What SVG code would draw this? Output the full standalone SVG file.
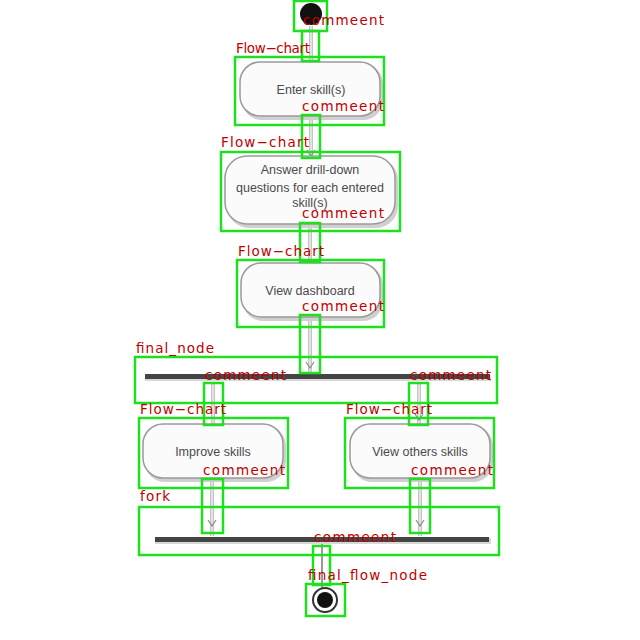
<svg xmlns="http://www.w3.org/2000/svg" width="640" height="640" viewBox="0 0 640 640">
<defs>
<style>
.act{fill:#fbfbfb;stroke:#9a9a9a;stroke-width:1.5}
.sh{fill:#d0d0d0}
.nt{font-family:"Liberation Sans",Arial,sans-serif;font-size:12.5px;fill:#4a4a4a;text-anchor:middle}
.gb{fill:none;stroke:#1fe01f;stroke-width:2.5}
.lb{font-family:"DejaVu Sans",sans-serif;font-size:13.5px;fill:#c00000}
.ln{stroke:#c4c4c4;stroke-width:4;fill:none}
.li{stroke:#ececec;stroke-width:1.5;fill:none}
.ah{stroke:#888;stroke-width:1.2;fill:none}
.bar{fill:#444}
</style>
</defs>
<rect width="640" height="640" fill="#fff"/>
<g id="connectors">
<line class="ln" x1="311" y1="26" x2="311" y2="62"/><line class="li" x1="311" y1="26" x2="311" y2="62"/>
<line class="ln" x1="311" y1="119" x2="311" y2="156"/><line class="li" x1="311" y1="119" x2="311" y2="156"/>
<path class="ah" d="M307 150 L311 156 L315 150"/>
<line class="ln" x1="310" y1="228" x2="310" y2="263"/><line class="li" x1="310" y1="228" x2="310" y2="263"/>
<line class="ln" x1="310" y1="321" x2="310" y2="373"/><line class="li" x1="310" y1="321" x2="310" y2="373"/>
<path class="ah" d="M306 362 L310 368 L314 362"/>
<line class="ln" x1="213" y1="382" x2="213" y2="424"/><line class="li" x1="213" y1="382" x2="213" y2="424"/>
<line class="ln" x1="419" y1="382" x2="419" y2="424"/><line class="li" x1="419" y1="382" x2="419" y2="424"/>
<path class="ah" d="M415 414 L419 420 L423 414"/>
<line class="ln" x1="212" y1="481" x2="212" y2="536"/><line class="li" x1="212" y1="481" x2="212" y2="536"/>
<path class="ah" d="M208 520 L212 526 L216 520"/>
<line class="ln" x1="420" y1="481" x2="420" y2="536"/><line class="li" x1="420" y1="481" x2="420" y2="536"/>
<path class="ah" d="M416 520 L420 526 L424 520"/>
<line x1="322" y1="543" x2="322" y2="588" stroke="#999" stroke-width="2"/>
</g>
<g id="start">
<circle cx="311" cy="14" r="11" fill="#111"/>
</g>
<g id="enter">
<rect class="sh" x="242" y="64" width="141" height="56" rx="20"/>
<rect class="act" x="240" y="62" width="140" height="54" rx="20"/>
<text class="nt" x="311" y="94">Enter skill(s)</text>
</g>
<g id="answer">
<rect class="sh" x="227" y="158" width="171" height="70" rx="22"/>
<rect class="act" x="225" y="156" width="170" height="68" rx="22"/>
<text class="nt" x="310" y="174">Answer drill-down</text>
<text class="nt" x="310" y="192">questions for each entered</text>
<text class="nt" x="310" y="207">skill(s)</text>
</g>
<g id="dashboard">
<rect class="sh" x="243" y="265" width="140" height="56" rx="20"/>
<rect class="act" x="241" y="263" width="139" height="54" rx="20"/>
<text class="nt" x="310" y="295">View dashboard</text>
</g>
<g id="fork_top">
<rect x="145" y="375" width="346" height="6" fill="#d8d8d8"/>
<rect class="bar" x="145" y="374" width="345" height="5"/>
</g>
<g id="improve">
<rect class="sh" x="145" y="426" width="141" height="56" rx="20"/>
<rect class="act" x="143" y="424" width="140" height="54" rx="20"/>
<text class="nt" x="213" y="456">Improve skills</text>
</g>
<g id="others">
<rect class="sh" x="352" y="426" width="141" height="56" rx="20"/>
<rect class="act" x="350" y="424" width="140" height="54" rx="20"/>
<text class="nt" x="420" y="456">View others skills</text>
</g>
<g id="join">
<rect x="155" y="538" width="336" height="6" fill="#d8d8d8"/>
<rect class="bar" x="155" y="537" width="334" height="5"/>
</g>
<g id="final">
<circle cx="325" cy="600" r="12" fill="#fff" stroke="#333" stroke-width="2"/>
<circle cx="325" cy="600" r="8" fill="#111"/>
</g>
<g id="annotations">
<rect class="gb" x="294" y="1" width="33" height="30"/>
<rect class="gb" x="302" y="31" width="17" height="30"/>
<rect class="gb" x="235" y="57" width="149" height="68"/>
<rect class="gb" x="302" y="115" width="18" height="43"/>
<rect class="gb" x="221" y="152" width="179" height="79"/>
<rect class="gb" x="300" y="223" width="20" height="39"/>
<rect class="gb" x="237" y="260" width="147" height="67"/>
<rect class="gb" x="300" y="315" width="20" height="58"/>
<rect class="gb" x="135" y="357" width="362" height="46"/>
<rect class="gb" x="204" y="383" width="19" height="42"/>
<rect class="gb" x="409" y="383" width="19" height="42"/>
<rect class="gb" x="139" y="418" width="149" height="70"/>
<rect class="gb" x="345" y="418" width="149" height="70"/>
<rect class="gb" x="202" y="479" width="21" height="54"/>
<rect class="gb" x="410" y="479" width="20" height="54"/>
<rect class="gb" x="139" y="507" width="360" height="48"/>
<rect class="gb" x="313" y="546" width="17" height="39"/>
<rect class="gb" x="306" y="584" width="39" height="32"/>
<text class="lb" x="303" y="25" textLength="81">commeent</text>
<text class="lb" x="236" y="53" textLength="74">Flow−chart</text>
<text class="lb" x="302" y="111" textLength="82">commeent</text>
<text class="lb" x="221" y="147" textLength="88">Flow−chart</text>
<text class="lb" x="302" y="218" textLength="82">commeent</text>
<text class="lb" x="238" y="256" textLength="86">Flow−chart</text>
<text class="lb" x="302" y="311" textLength="82">commeent</text>
<text class="lb" x="136" y="353" textLength="78">final_node</text>
<text class="lb" x="205" y="380" textLength="81">commeent</text>
<text class="lb" x="410" y="380" textLength="81">commeent</text>
<text class="lb" x="140" y="414" textLength="86">Flow−chart</text>
<text class="lb" x="346" y="414" textLength="86">Flow−chart</text>
<text class="lb" x="203" y="475" textLength="82">commeent</text>
<text class="lb" x="411" y="475" textLength="82">commeent</text>
<text class="lb" x="140" y="501" textLength="30">fork</text>
<text class="lb" x="314" y="542" textLength="82">commeent</text>
<text class="lb" x="308" y="580" textLength="119">final_flow_node</text>
</g>
</svg>
